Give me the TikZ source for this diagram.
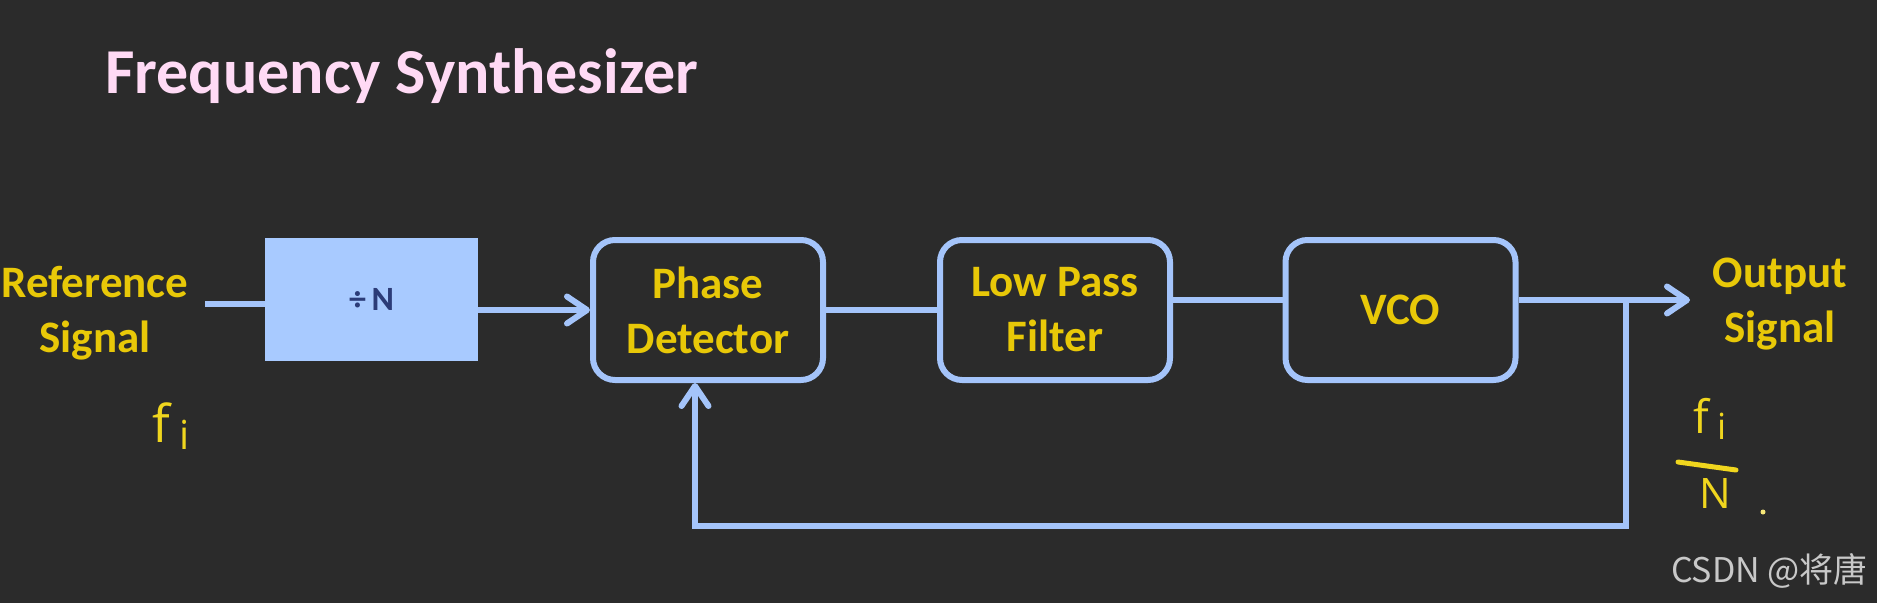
\documentclass[tikz,border=0pt]{standalone}
\usepackage{fontspec}
\setmainfont{Carlito}
\newfontfamily\handfont{Open Sans}
\newfontfamily\cjk{Noto Sans CJK SC}
\usetikzlibrary{arrows.meta}
\definecolor{bgdark}{RGB}{43,43,43}
\definecolor{lineblue}{RGB}{164,196,250}
\definecolor{divfill}{RGB}{168,202,255}
\definecolor{divtext}{RGB}{44,60,120}
\definecolor{labelyellow}{RGB}{232,200,8}
\definecolor{handyellow}{RGB}{240,214,30}
\definecolor{titlepink}{RGB}{255,218,245}
\definecolor{markgray}{RGB}{200,200,200}

\begin{document}
\begin{tikzpicture}[x=1pt, y=-1pt,
                    >={Straight Barb[length=20pt,width=27pt,line cap=round,line join=round]},
                    block/.style={draw=lineblue, line width=6pt, rounded corners=22pt,
                                  minimum width=230pt, minimum height=140pt, inner sep=0pt,
                                  align=center, text=labelyellow,
                                  font=\bfseries\fontsize{45}{55}\selectfont},
                    divbox/.style={fill=divfill, minimum width=213pt, minimum height=123pt,
                                   inner sep=0pt, text=divtext,
                                   font=\bfseries\fontsize{34}{36}\selectfont},
                    sig/.style={align=center, text=labelyellow, inner sep=0pt,
                                font=\bfseries\fontsize{45}{55}\selectfont},
                    hand/.style={text=handyellow, inner sep=0pt,
                                 font=\handfont\fontsize{52}{52}\selectfont},
                    wire/.style={draw=lineblue, line width=6pt},
                ]
                % background and frame
                \fill[bgdark] (0,0) rectangle (1877,603);
                \useasboundingbox (0,0) rectangle (1877,603);

                \node[anchor=base west, text=titlepink, inner sep=0pt,
                      font=\bfseries\fontsize{64}{64}\selectfont] (title) at (105,93) {Frequency Synthesizer};

                % blocks
                \node[sig] (ref) at (95,313) {Reference\\Signal};
                \node[divbox] (div) at (371.5,299.5) {÷\,N};
                \node[block] (pd) at (708,310) {Phase\\Detector};
                \node[block] (lpf) at (1055,310) {Low Pass\\Filter};
                \node[block] (vco) at (1400.5,310) {VCO};
                \node[sig] (out) at (1780,304) {Output\\Signal};

                \coordinate (in) at (205,304);
                \coordinate (outtip) at (1690,300);
                \coordinate (tap) at (1626,300);
                \coordinate (fbright) at (1626,526);
                \coordinate (fbleft) at (695,526);

                % connectors
                \draw[wire] (in) -- (div.west |- in);
                \draw[wire,->] (div.east |- pd.west) -- (pd.west);
                \draw[wire] (pd.east) -- (lpf.west);
                \draw[wire] ([yshift=10pt]lpf.east) -- ([yshift=10pt]vco.west);
                \draw[wire,->] ([yshift=10pt]vco.east) -- (outtip);
                \draw[wire,->] (tap) -- (fbright) -- (fbleft) -- (fbleft |- pd.south);

                % handwritten notes
                \node[hand] (fin) at (171,426) {f\,\raisebox{-7pt}{\fontsize{40}{40}\selectfont i}};
                \node[hand, font=\handfont\fontsize{46}{46}\selectfont] (fout) at (1710,419) {f\,\raisebox{-6pt}{\fontsize{36}{36}\selectfont i}};
                \node[hand, font=\handfont\fontsize{42}{42}\selectfont] (nout) at (1715,493) {N};
                \draw[handyellow, line width=5pt, line cap=round] (1678,462) -- (1736,470);
                \fill[handyellow!60!white] (1763,512) circle (2.5pt);

                \node[anchor=base east, text=markgray, inner sep=0pt,
                      font=\cjk\fontsize{34}{34}\selectfont] (mark) at (1868,582) {CSDN @将唐};
                \end{tikzpicture}
\end{document}
